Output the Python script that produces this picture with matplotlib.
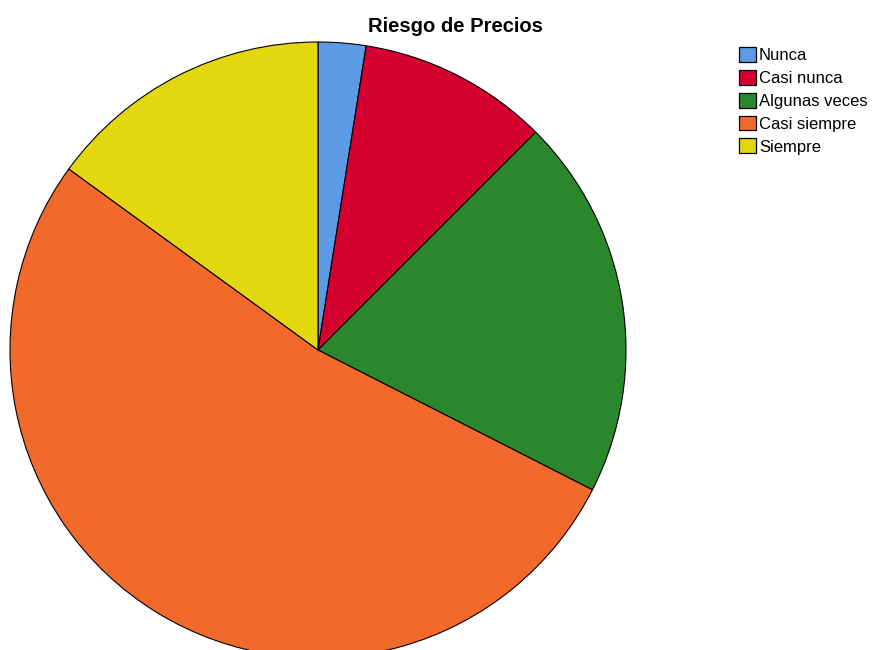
import matplotlib
matplotlib.use("Agg")
import matplotlib.pyplot as plt
from matplotlib.patches import Patch

categories = ["Nunca", "Casi nunca", "Algunas veces", "Casi siempre", "Siempre"]
values = [2.5, 10.0, 20.0, 52.5, 15.0]
colors = ["#5b9be6", "#d4002f", "#2b872b", "#f26a2b", "#e3d70f"]

plt.rcParams['font.family'] = ['Liberation Sans', 'DejaVu Sans']

W, H = 875, 650
fig = plt.figure(figsize=(W/100, H/100), dpi=100)
cx, cy, r = 318, 350, 308
ax = fig.add_axes([(cx - r)/W, (H - cy - r)/H, 2*r/W, 2*r/H])
wedges, _ = ax.pie(values, colors=colors, startangle=90, counterclock=False,
                   radius=1, wedgeprops=dict(edgecolor="black", linewidth=0.8))
for w in wedges:
    w.set_clip_on(False)
ax.set_xlim(-1, 1)
ax.set_ylim(-1, 1)
ax.set_aspect('equal')
ax.axis('off')

fig.text(455/W, 1 - 27/H, "Riesgo de Precios", ha='center', va='center',
         fontsize=14.5, fontweight='bold')

handles = [Patch(facecolor=c, edgecolor='black', linewidth=0.9) for c in colors]
fig.legend(handles, categories, loc='upper left', bbox_to_anchor=(739/W, 1 - 47/H),
           frameon=False, fontsize=12, handlelength=1.0, handleheight=1.0,
           handletextpad=0.2, labelspacing=0.4, borderpad=0, borderaxespad=0)

fig.savefig("out.png", dpi=100)
